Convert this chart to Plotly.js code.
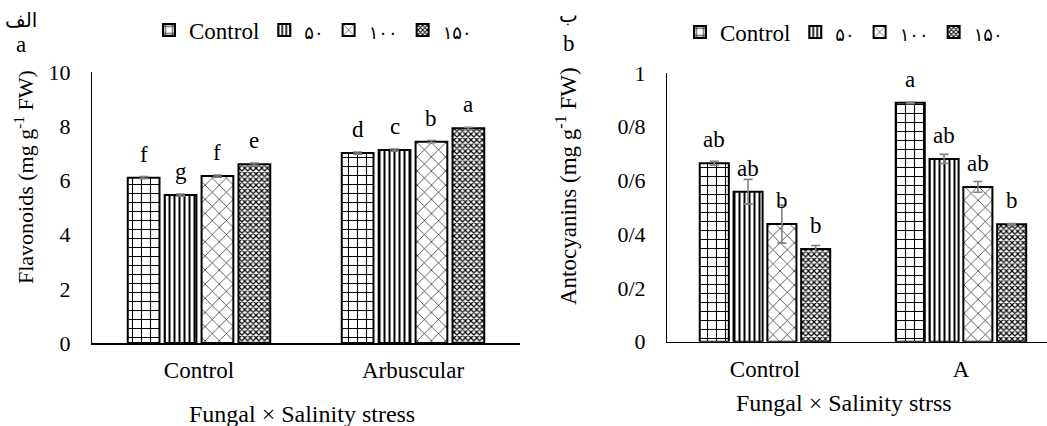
<!DOCTYPE html>
<html>
<head>
<meta charset="utf-8">
<script src="https://cdn.plot.ly/plotly-3.0.1.min.js"></script>
<style>html,body{margin:0;padding:0;background:#fff;}#chart{width:1047px;height:426px;}</style>
</head>
<body>
<div id="chart"></div>
<script>
// ---------- data ----------
const flavCategories = ['Control', 'Arbuscular'];
const antoCategories = ['Control', 'A'];
const seriesNames = ['Control', '۵۰', '۱۰۰', '۱۵۰'];

const flavControl = [6.10, 7.01];
const flav50      = [5.46, 7.12];
const flav100     = [6.16, 7.43];
const flav150     = [6.60, 7.92];
const flavErrControl = [0.04, 0.04];
const flavErr50      = [0.04, 0.04];
const flavErr100     = [0.04, 0.04];
const flavErr150     = [0.04, 0.04];
const flavLettersControl = ['f', 'd'];
const flavLetters50      = ['g', 'c'];
const flavLetters100     = ['f', 'b'];
const flavLetters150     = ['e', 'a'];

const antoControl = [0.664, 0.889];
const anto50      = [0.558, 0.680];
const anto100     = [0.438, 0.576];
const anto150     = [0.345, 0.437];
const antoErrControl = [0.007, 0.003];
const antoErr50      = [0.046, 0.017];
const antoErr100     = [0.071, 0.020];
const antoErr150     = [0.013, 0.003];
const antoLettersControl = ['ab', 'a'];
const antoLetters50      = ['ab', 'ab'];
const antoLetters100     = ['b', 'ab'];
const antoLetters150     = ['b', 'b'];

const antoTickVals = [0, 0.2, 0.4, 0.6, 0.8, 1];
const antoTickText = ['0', '0/2', '0/4', '0/6', '0/8', '1'];

// ---------- styling ----------
const W = 1047, H = 426;
const serif = 'Liberation Serif';
const patterns = [
  {shape: '+', size: 9, solidity: 0.22, fgcolor: '#000', bgcolor: '#fff'},
  {shape: '|', size: 5, solidity: 0.4, fgcolor: '#000', bgcolor: '#fff'},
  {shape: 'x', size: 10, solidity: 0.12, fgcolor: '#000', bgcolor: '#fff'},
  {shape: 'x', size: 4, solidity: 0.5, fgcolor: '#000', bgcolor: '#fff'}
];
const legendNames = seriesNames.map((n, i) => i === 0 ? n :
  '<span style="font-family:DejaVu Sans;font-size:18px">' + n + '</span>');

const BARGAP = 0.31, GROUPGAP = 0.14;
const slot = (1 - BARGAP) / 4;

const flavVals = [flavControl, flav50, flav100, flav150];
const flavErrs = [flavErrControl, flavErr50, flavErr100, flavErr150];
const flavLet = [flavLettersControl, flavLetters50, flavLetters100, flavLetters150];
const antoVals = [antoControl, anto50, anto100, anto150];
const antoErrs = [antoErrControl, antoErr50, antoErr100, antoErr150];
const antoLet = [antoLettersControl, antoLetters50, antoLetters100, antoLetters150];

const traces = [];
const annotations = [];

function addPanel(cats, vals, errs, lets, xa, ya, legendId) {
  vals.forEach((v, j) => {
    traces.push({
      type: 'bar', x: cats, y: v, name: legendNames[j],
      xaxis: xa, yaxis: ya, legend: legendId,
      marker: {color: '#fff', pattern: patterns[j], line: {color: '#000', width: 2}},
      error_y: {type: 'data', array: errs[j], visible: true, color: '#808080', thickness: 1.6, width: 4.5},
      hoverinfo: 'skip'
    });
    v.forEach((val, i) => {
      annotations.push({
        xref: xa, yref: ya, x: i + (j - 1.5) * slot, y: val,
        text: lets[j][i], showarrow: false, xanchor: 'center', yanchor: 'bottom',
        yshift: 9, font: {family: serif, size: 23, color: '#000'}
      });
    });
  });
}
addPanel(flavCategories, flavVals, flavErrs, flavLet, 'x', 'y', 'legend');
addPanel(antoCategories, antoVals, antoErrs, antoLet, 'x2', 'y2', 'legend2');

function paperAnn(text, px, py, size, angle, family) {
  annotations.push({xref: 'paper', yref: 'paper', x: px / W, y: 1 - py / H, text: text,
    showarrow: false, xanchor: 'center', yanchor: 'middle', textangle: angle || 0,
    font: {family: family || serif, size: size, color: '#000'}});
}
paperAnn('Flavonoids (mg g<sup>-1</sup> FW)', 24, 177, 22, -90);
paperAnn('Antocyanins (mg g<sup>-1</sup> FW)', 566, 186, 23, -90);
paperAnn('الف', 21, 20, 20, 0, 'DejaVu Sans');
paperAnn('a', 21, 44, 23);
paperAnn('ب', 568, 15, 20, 0, 'DejaVu Sans');
paperAnn('b', 569, 43, 23);
paperAnn('Fungal × Salinity stress', 302, 414, 24);
paperAnn('Fungal × Salinity strss', 844, 403, 24);

const axFont = {family: serif, size: 22, color: '#000'};
const layout = {
  width: W, height: H,
  margin: {l: 0, r: 0, t: 0, b: 0},
  paper_bgcolor: '#fff', plot_bgcolor: 'rgba(0,0,0,0)',
  barmode: 'group', bargap: BARGAP, bargroupgap: GROUPGAP,
  showlegend: true,
  font: {family: serif, color: '#000'},
  xaxis: {domain: [92 / W, 520 / W], range: [-0.5, 1.5], type: 'category', showline: true,
    linecolor: '#000', linewidth: 1.5, showgrid: false, zeroline: false, ticks: '',
    tickfont: {family: serif, size: 23, color: '#000'}, ticklabelstandoff: 6, anchor: 'y'},
  yaxis: {domain: [(H - 343) / H, (H - 72) / H], range: [0, 10], dtick: 2, showline: true,
    linecolor: '#000', linewidth: 1, showgrid: false, zeroline: false, ticks: '',
    tickfont: axFont, ticklabelstandoff: 16, anchor: 'x'},
  xaxis2: {domain: [667 / W, 1], range: [-0.5, 1.439], type: 'category', showline: true,
    linecolor: '#000', linewidth: 1.5, showgrid: false, zeroline: false, ticks: '',
    tickfont: {family: serif, size: 23, color: '#000'}, ticklabelstandoff: 6, anchor: 'y2'},
  yaxis2: {domain: [(H - 341.7) / H, (H - 73) / H], range: [0, 1], tickvals: antoTickVals,
    ticktext: antoTickText, showline: true, linecolor: '#000', linewidth: 1, showgrid: false,
    zeroline: false, ticks: '', tickfont: axFont, ticklabelstandoff: 16, anchor: 'x2'},
  legend: {orientation: 'h', x: 149 / W, y: 1 - 30 / H, xanchor: 'left', yanchor: 'middle',
    font: {family: serif, size: 23, color: '#000'}, bgcolor: 'rgba(0,0,0,0)', traceorder: 'normal'},
  legend2: {orientation: 'h', x: 680 / W, y: 1 - 32 / H, xanchor: 'left', yanchor: 'middle',
    font: {family: serif, size: 23, color: '#000'}, bgcolor: 'rgba(0,0,0,0)', traceorder: 'normal'},
  annotations: annotations
};

Plotly.newPlot('chart', traces, layout, {displayModeBar: false, staticPlot: true});
</script>
</body>
</html>
